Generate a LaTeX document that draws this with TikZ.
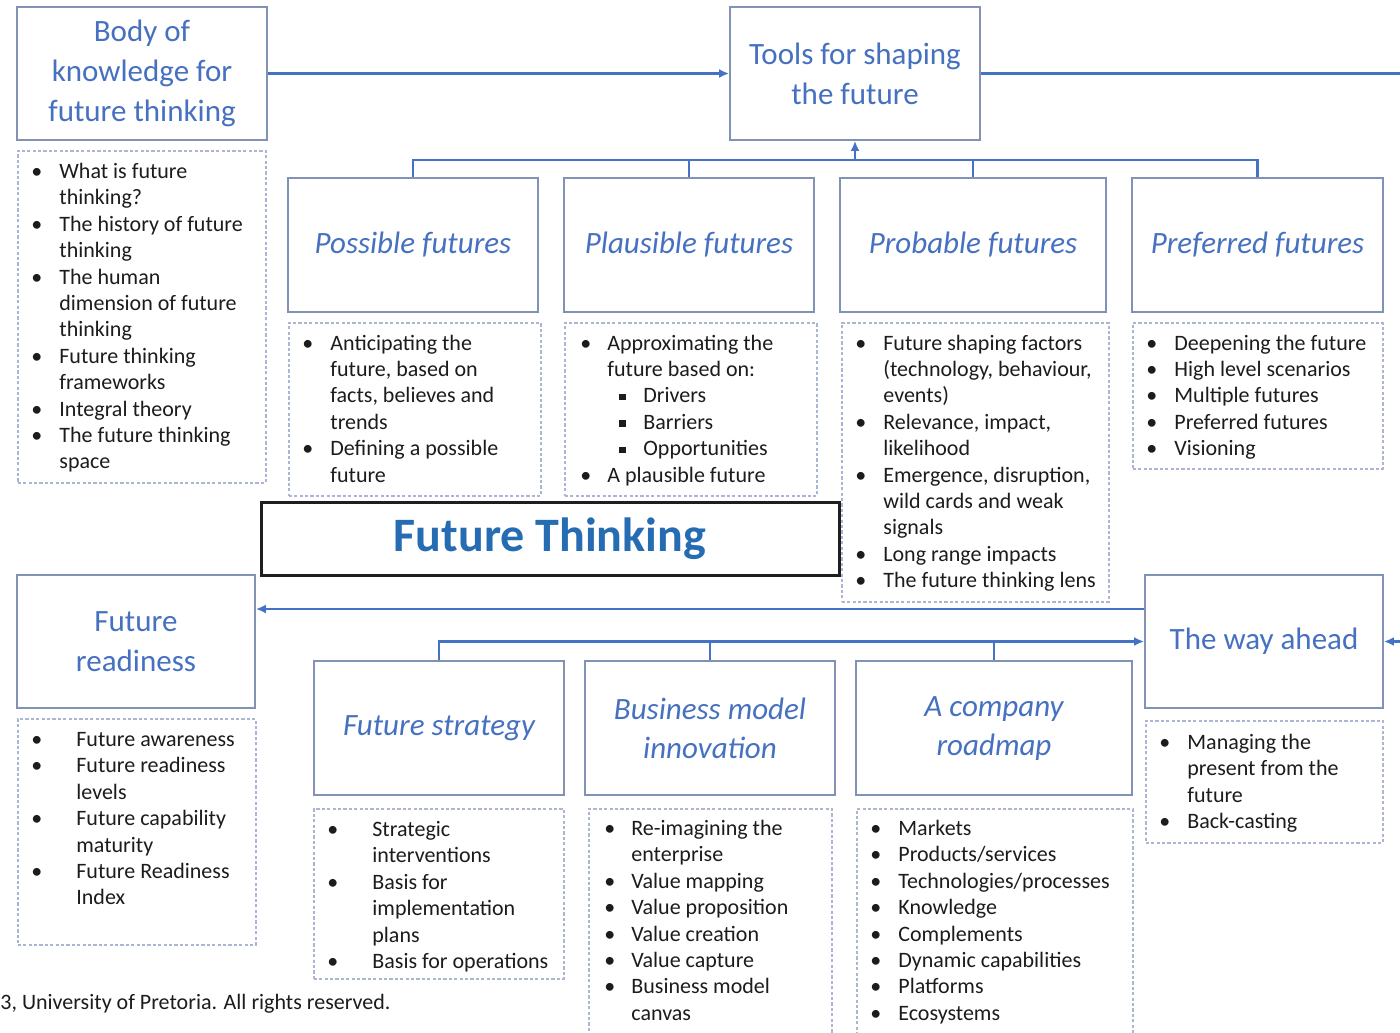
\documentclass[tikz,border=0pt]{standalone}
\usepackage{fontspec}
\setmainfont{Carlito}
\usetikzlibrary{arrows.meta}

\definecolor{titleblue}{RGB}{70,112,192}
\definecolor{linkblue}{RGB}{68,114,196}
\definecolor{boxedge}{RGB}{130,146,180}
\definecolor{dotedge}{RGB}{172,182,212}
\definecolor{ftblue}{RGB}{38,108,178}
\definecolor{bodytext}{RGB}{28,28,28}

% bullet lists: \bpos = bullet offset, \bind = text offset
\newlength{\bpos}\setlength{\bpos}{7pt}
\newlength{\bind}\setlength{\bind}{21pt}
\newcommand{\bi}[1]{\hangindent=\bind\hangafter=1\noindent\makebox[\bind][l]{\hspace{\bpos}\textbullet}#1\par}
\newcommand{\subsq}{\raisebox{1.3pt}{\rule{3.2pt}{3.2pt}}}
\newcommand{\si}[1]{\noindent\makebox[39.5pt][l]{\hspace{27.5pt}\subsq}#1\par}
\newcommand{\nl}{\newline}
\newcommand{\blist}[2]{\parbox[t]{#1}{\raggedright #2}}

\tikzset{
  titlebox/.style={draw=boxedge, line width=0.9pt, fill=white, inner sep=0pt,
    align=center, text=titleblue, font=\fontsize{15.5}{20}\selectfont},
  ititle/.style={titlebox, font=\fontsize{15.5}{19.5}\selectfont\itshape},
  listbox/.style={draw=dotedge, line width=0.8pt, dash pattern=on 1.6pt off 1.1pt,
    inner sep=0pt, anchor=north west},
  listtext/.style={anchor=base west, inner sep=0pt, text=bodytext,
    font=\fontsize{11}{13.2}\selectfont},
  conn/.style={draw=linkblue, line width=1.1pt},
  arr/.style={conn, -{Latex[length=5pt,width=4.5pt]}},
}

\begin{document}
\begin{tikzpicture}[x=0.5pt, y=-0.5pt]
\useasboundingbox (0,0) rectangle (1400,1032);
\clip (0,0) rectangle (1400,1032);
\fill[white] (0,0) rectangle (1400,1032);

% ---- title boxes ----
\node[titlebox, minimum width=125pt, minimum height=66.5pt] (body) at (142,73.5)
  {\raisebox{-2pt}{\begin{tabular}{@{}c@{}}Body of\\knowledge for\\future thinking\end{tabular}}};
\node[titlebox, minimum width=125pt, minimum height=66.5pt] (tools) at (855,73.5)
  {Tools for shaping\\the future};
\node[ititle, minimum width=125pt, minimum height=67pt] (poss) at (413,245) {Possible futures};
\node[ititle, minimum width=125pt, minimum height=67pt] (plau) at (689,245) {Plausible futures};
\node[ititle, minimum width=133pt, minimum height=67pt] (prob) at (973,245) {Probable futures};
\node[ititle, minimum width=125.5pt, minimum height=67pt] (pref) at (1257.5,245) {Preferred futures};

\node[draw=black!88, line width=1.5pt, fill=white, minimum width=289pt, minimum height=36.5pt,
  inner sep=0pt, text=ftblue, font=\bfseries\fontsize{24}{28}\selectfont] (ft) at (550,538.5)
  {\raisebox{-1.5pt}{Future Thinking}};

\node[titlebox, minimum width=119pt, minimum height=66.5pt] (fr) at (136,641.5) {Future\\readiness};
\node[titlebox, minimum width=119pt, minimum height=66.5pt] (way) at (1264,641.5) {The way ahead};
\node[ititle, minimum width=125pt, minimum height=67pt] (strat) at (439,728) {Future strategy};
\node[ititle, minimum width=125pt, minimum height=67pt] (biz) at (710,728) {Business model\\innovation};
\node[ititle, minimum width=138pt, minimum height=67pt] (road) at (994,728)
  {\raisebox{-1.5pt}{\begin{tabular}{@{}c@{}}A company\\roadmap\end{tabular}}};

% ---- dotted list frames ----
\node[listbox, minimum width=124pt, minimum height=166pt] (bodyl) at (17,150) {};
\node[listbox, minimum width=126pt, minimum height=86.5pt] (possl) at (288,322) {};
\node[listbox, minimum width=126pt, minimum height=86.5pt] (plaul) at (564,322) {};
\node[listbox, minimum width=133.5pt, minimum height=139.5pt] (probl) at (841,322) {};
\node[listbox, minimum width=125pt, minimum height=73pt] (prefl) at (1132,322) {};
\node[listbox, minimum width=119pt, minimum height=113pt] (frl) at (17,718) {};
\node[listbox, minimum width=118.5pt, minimum height=61pt] (wayl) at (1145,720) {};
\node[listbox, minimum width=125pt, minimum height=85pt] (stratl) at (313,808) {};
\node[listbox, minimum width=121.5pt, minimum height=120pt] (bizl) at (588,808) {};
\node[listbox, minimum width=138pt, minimum height=120pt] (roadl) at (856,808) {};

% ---- list contents ----
\node[listtext] (bodyt) at (17,178.5) {\blist{124pt}{%
  \bi{What is future\nl thinking?}
  \bi{The history of future\nl thinking}
  \bi{The human\nl dimension of future\nl thinking}
  \bi{Future thinking\nl frameworks}
  \bi{Integral theory}
  \bi{The future thinking\nl space}}};

\node[listtext] (posst) at (288,350) {\blist{126pt}{%
  \bi{Anticipating the\nl future, based on\nl facts, believes and\nl trends}
  \bi{Defining a possible\nl future}}};

\node[listtext] (plaut) at (564,350) {\blist{126pt}{\setlength{\bind}{21.5pt}\setlength{\bpos}{8pt}%
  \bi{Approximating the\nl future based on:}
  \si{Drivers}
  \si{Barriers}
  \si{Opportunities}
  \bi{A plausible future}}};

\node[listtext] (probt) at (841,350) {\blist{133.5pt}{%
  \bi{Future shaping factors\nl (technology, behaviour,\nl events)}
  \bi{Relevance, impact,\nl likelihood}
  \bi{Emergence, disruption,\nl wild cards and weak\nl signals}
  \bi{Long range impacts}
  \bi{The future thinking lens}}};

\node[listtext] (preft) at (1132,350) {\blist{125pt}{%
  \bi{Deepening the future}
  \bi{High level scenarios}
  \bi{Multiple futures}
  \bi{Preferred futures}
  \bi{Visioning}}};

\node[listtext] (frt) at (17,746.5) {\blist{119pt}{\setlength{\bind}{29.5pt}%
  \bi{Future awareness}
  \bi{Future readiness\nl levels}
  \bi{Future capability\nl maturity}
  \bi{Future Readiness\nl Index}}};

\node[listtext] (wayt) at (1145,749.5) {\blist{118.5pt}{%
  \bi{Managing the\nl present from the\nl future}
  \bi{Back-casting}}};

\node[listtext] (stratt) at (313,836.5) {\blist{125pt}{\setlength{\bind}{29.5pt}%
  \bi{Strategic\nl interventions}
  \bi{Basis for\nl implementation\nl plans}
  \bi{Basis for operations}}};

\node[listtext] (bizt) at (588,835.5) {\blist{121.5pt}{\setlength{\bind}{21.5pt}\setlength{\bpos}{8pt}%
  \bi{Re-imagining the\nl enterprise}
  \bi{Value mapping}
  \bi{Value proposition}
  \bi{Value creation}
  \bi{Value capture}
  \bi{Business model\nl canvas}}};

\node[listtext] (roadt) at (856,835.5) {\blist{138pt}{%
  \bi{Markets}
  \bi{Products/services}
  \bi{Technologies/processes}
  \bi{Knowledge}
  \bi{Complements}
  \bi{Dynamic capabilities}
  \bi{Platforms}
  \bi{Ecosystems}}};

% ---- connectors ----
\coordinate (toolsout) at (1400,73.5);
\coordinate (upbus) at (855,160);
\coordinate (backline) at (0,609);
\coordinate (wayin) at (1400,641.5);

\draw[arr] (body) -- (tools);
\draw[conn] (tools) -- (toolsout);

\draw[conn] (poss.north) |- (pref.north |- upbus) -- (pref.north);
\draw[conn] (plau.north) -- (plau.north |- upbus);
\draw[conn] (prob.north) -- (prob.north |- upbus);
\draw[arr] (upbus) -- (tools.south);

\draw[arr] (way.west |- backline) -- (fr.east |- backline);

\draw[arr] (strat.north) |- (way.west);
\draw[conn] (biz.north) -- (biz.north |- way.west);
\draw[conn] (road.north) -- (road.north |- way.west);
\draw[arr] (wayin) -- (way.east);

% ---- footer ----
\node[anchor=base west, inner sep=0pt, text=bodytext, font=\fontsize{11}{13}\selectfont]
  (rights) at (0,1009) {3, University of Pretoria. All rights reserved.};
\end{tikzpicture}
\end{document}
